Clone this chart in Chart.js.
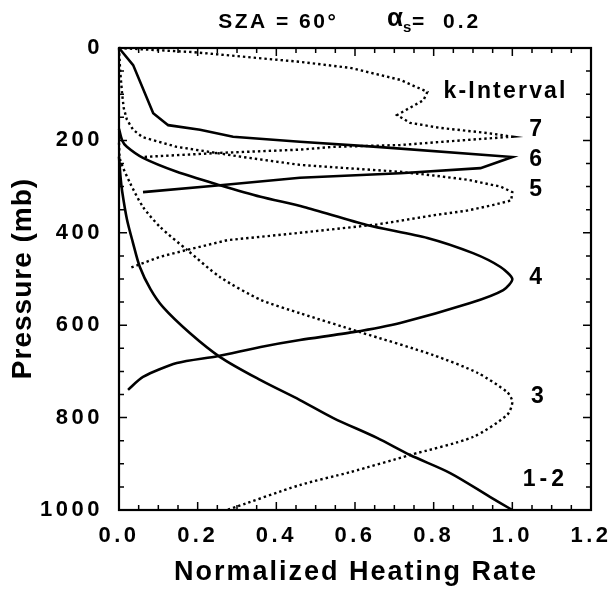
<!DOCTYPE html>
<html>
<head>
<meta charset="utf-8">
<script src="https://cdn.jsdelivr.net/npm/chart.js@4.4.0/dist/chart.umd.min.js"></script>
<style>
  html, body { margin: 0; padding: 0; background: #fff; }
</style>
</head>
<body>
<canvas id="chart" width="610" height="592"></canvas>
<script>
// normalized heating rate (x) vs pressure in mb (y), one pair per k-interval
const k12Heat = [0, 0.004, 0.008, 0.02, 0.035, 0.053, 0.08, 0.112, 0.18, 0.257, 0.36, 0.46, 0.545, 0.656, 0.74, 0.842, 0.944, 1.0];
const k12Pres = [235, 280, 310, 370, 420, 474, 522, 561, 617, 669, 719, 762, 801, 844, 881, 920, 972, 1000];

const k3Heat = [0, 0.003, 0.028, 0.061, 0.104, 0.173, 0.257, 0.36, 0.46, 0.613, 0.8, 0.911, 0.987, 1.0, 0.987, 0.9, 0.74, 0.588, 0.46, 0.275];
const k3Pres = [205, 242, 292, 344, 387, 437, 496, 545, 574, 615, 665, 703, 745, 766, 794, 842, 881, 918, 946, 1000];

const k4Heat = [0, 0.008, 0.02, 0.061, 0.147, 0.257, 0.36, 0.47, 0.63, 0.784, 0.9, 0.97, 1.0, 0.977, 0.893, 0.715, 0.595, 0.46, 0.36, 0.25, 0.147, 0.061, 0.023];
const k4Pres = [175, 200, 214, 238, 268, 297, 322, 344, 383, 411, 444, 474, 500, 524, 552, 595, 615, 632, 647, 667, 682, 712, 740];

const k5Heat = [0, 0.003, 0.008, 0.012, 0.02, 0.036, 0.06, 0.147, 0.315, 0.46, 0.715, 0.8, 0.885, 0.97, 1.0, 0.997, 0.95, 0.885, 0.8, 0.656, 0.46, 0.275, 0.173, 0.104, 0.028];
const k5Pres = [0, 50, 100, 130, 155, 177, 193, 214, 236, 253, 268, 276, 285, 300, 312, 330, 340, 352, 362, 382, 400, 416, 437, 452, 476];

const k6Heat = [0, 0.036, 0.087, 0.125, 0.206, 0.29, 0.46, 0.656, 1.0, 0.919, 0.715, 0.46, 0.257, 0.061];
const k6Pres = [0, 37, 141, 167, 177, 192, 203, 214, 236, 260, 271, 281, 297, 312];

const k7Heat = [0, 0.19, 0.46, 0.588, 0.715, 0.784, 0.774, 0.707, 0.74, 0.817, 0.936, 1.0, 0.885, 0.715, 0.545, 0.46, 0.257, 0.058];
const k7Pres = [0, 9, 30, 43, 69, 95, 113, 145, 162, 173, 184, 192, 199, 210, 214, 220, 227, 236];

// k-interval labels on the right, placed in data units
const intervalNames = ['7', '6', '5', '4', '3', '1-2'];
const intervalLabelHeat = [1.059, 1.059, 1.059, 1.059, 1.064, 1.079];
const intervalLabelPres = [177, 242, 307, 498, 755, 935];

const FONT = '"Liberation Sans", Arial, Helvetica, sans-serif';

function toPoints(heat, pres) {
  return heat.map((h, i) => ({ x: h, y: pres[i] }));
}

function solidLine(heat, pres, tension) {
  return {
    data: toPoints(heat, pres),
    showLine: true,
    borderColor: '#000',
    borderWidth: 2.6,
    pointRadius: 0,
    tension: tension || 0,
    clip: 4,
  };
}

function dottedLine(heat, pres, tension) {
  const ds = solidLine(heat, pres, tension);
  ds.borderWidth = 2.4;
  ds.borderDash = [2.4, 3];
  return ds;
}

function putText(ctx, text, x, y, size, spacing, align) {
  ctx.font = 'bold ' + size + 'px ' + FONT;
  ctx.letterSpacing = spacing + 'px';
  ctx.textAlign = align || 'center';
  // trailing letter spacing pushes centred text left, so nudge it back
  const shift = align === 'left' ? 0 : spacing / 2;
  ctx.fillText(text, x + shift, y);
}

const framePlugin = {
  id: 'frame',
  beforeDraw(chart) {
    chart.ctx.letterSpacing = '3.5px';
  },
  afterDraw(chart) {
    const { ctx, chartArea: a } = chart;
    const xs = chart.scales.x;
    const ys = chart.scales.y;
    ctx.save();
    ctx.strokeStyle = '#000';
    ctx.lineWidth = 2.2;
    ctx.strokeRect(a.left, a.top, a.right - a.left, a.bottom - a.top);

    ctx.lineWidth = 1.5;
    ctx.beginPath();
    for (let i = 0; i <= 24; i++) {
      const px = xs.getPixelForValue(i * 0.05);
      const len = i % 4 === 0 ? 8 : 5;
      ctx.moveTo(px, a.bottom);
      ctx.lineTo(px, a.bottom - len);
      ctx.moveTo(px, a.top);
      ctx.lineTo(px, a.top + len);
    }
    for (let i = 0; i <= 20; i++) {
      const py = ys.getPixelForValue(i * 50);
      const len = i % 4 === 0 ? 8 : 5;
      ctx.moveTo(a.left, py);
      ctx.lineTo(a.left + len, py);
      ctx.moveTo(a.right, py);
      ctx.lineTo(a.right - len, py);
    }
    ctx.stroke();

    ctx.fillStyle = '#000';
    ctx.textBaseline = 'alphabetic';
    putText(ctx, 'SZA = 60°', 277, 28, 21, 2.5);
    putText(ctx, 'α', 387, 26, 26, 0, 'left');
    putText(ctx, 's', 403, 32, 15, 0, 'left');
    putText(ctx, '=', 412, 28, 21, 0, 'left');
    putText(ctx, '0.2', 443, 28, 21, 3, 'left');

    ctx.textBaseline = 'middle';
    putText(ctx, 'k-Interval', xs.getPixelForValue(0.98), ys.getPixelForValue(95), 23, 2.2);
    intervalNames.forEach((name, i) => {
      putText(ctx, name, xs.getPixelForValue(intervalLabelHeat[i]),
        ys.getPixelForValue(intervalLabelPres[i]), 23, name.length > 1 ? 4 : 0);
    });

    putText(ctx, 'Normalized Heating Rate', (a.left + a.right) / 2, 573, 27, 2);

    ctx.translate(23, (a.top + a.bottom) / 2);
    ctx.rotate(-Math.PI / 2);
    putText(ctx, 'Pressure (mb)', 0, 0, 28, 1);
    ctx.restore();
  },
};

const tickFont = { family: FONT, size: 22, weight: 'bold' };

new Chart(document.getElementById('chart'), {
  type: 'scatter',
  data: {
    datasets: [
      solidLine(k12Heat, k12Pres, 0.3),
      dottedLine(k3Heat, k3Pres, 0.25),
      solidLine(k4Heat, k4Pres, 0.25),
      dottedLine(k5Heat, k5Pres),
      solidLine(k6Heat, k6Pres),
      dottedLine(k7Heat, k7Pres),
    ],
  },
  options: {
    responsive: false,
    animation: false,
    layout: { padding: { top: 48, right: 19, left: 0, bottom: 0 } },
    plugins: {
      legend: { display: false },
      tooltip: { enabled: false },
    },
    scales: {
      x: {
        type: 'linear',
        min: 0,
        max: 1.2,
        grid: { display: false, drawTicks: false },
        border: { display: false },
        ticks: {
          stepSize: 0.2,
          padding: 13,
          color: '#000',
          font: tickFont,
          maxRotation: 0,
          autoSkip: false,
          callback: (v) => v.toFixed(1),
        },
        afterFit(s) {
          s.height = 82;
          s.paddingLeft = 0;
          s.paddingRight = 0;
        },
      },
      y: {
        type: 'linear',
        reverse: true,
        min: 0,
        max: 1000,
        grid: { display: false, drawTicks: false },
        border: { display: false },
        ticks: {
          stepSize: 200,
          padding: 16,
          color: '#000',
          font: tickFont,
          autoSkip: false,
          callback: (v) => String(v),
        },
        afterFit(s) {
          s.width = 119;
          s.paddingTop = 0;
          s.paddingBottom = 0;
        },
      },
    },
  },
  plugins: [framePlugin],
});
</script>
</body>
</html>
